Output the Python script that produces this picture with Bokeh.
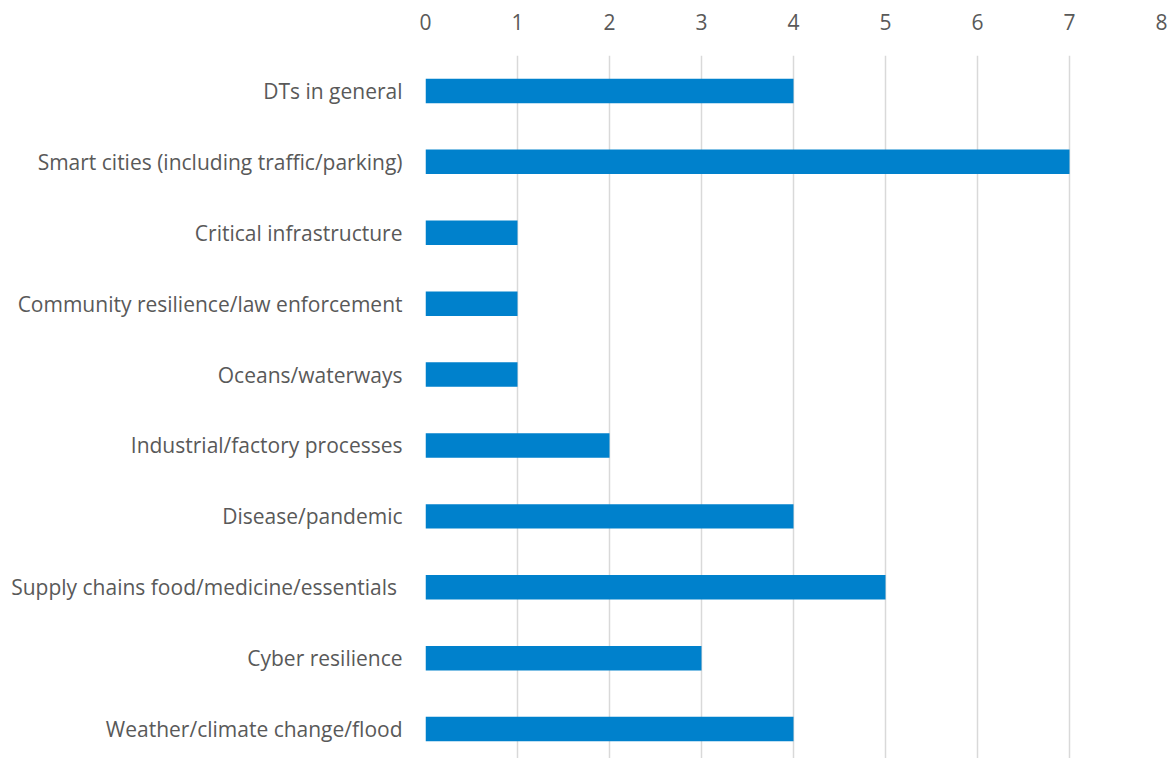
from bokeh.plotting import figure
from bokeh.models import Range1d, FixedTicker, ColumnDataSource
from bokeh.embed import file_html
from bokeh.resources import INLINE

categories = [
    "DTs in general",
    "Smart cities (including traffic/parking)",
    "Critical infrastructure",
    "Community resilience/law enforcement",
    "Oceans/waterways",
    "Industrial/factory processes",
    "Disease/pandemic",
    "Supply chains food/medicine/essentials ",
    "Cyber resilience",
    "Weather/climate change/flood",
]
values = [4, 7, 1, 1, 1, 2, 4, 5, 3, 4]
x_ticks = [0, 1, 2, 3, 4, 5, 6, 7, 8]

pos = list(range(len(categories)))
src = ColumnDataSource(dict(y=pos, right=values, left=[0] * len(values)))

p = figure(width=1172, height=758, output_backend="svg", toolbar_location=None,
           x_range=Range1d(0, 8), y_range=Range1d(9.415, -0.5),
           x_axis_location="above",
           min_border_left=425, min_border_right=11, min_border_top=55, min_border_bottom=0)
p.outline_line_color = None
p.background_fill_color = "white"
p.border_fill_color = "white"

p.hbar(y="y", left="left", right="right", height=0.345, source=src,
       fill_color="#0081CC", line_color=None)

xax = p.above[0]
xax.ticker = FixedTicker(ticks=x_ticks)
xax.axis_line_color = None
xax.major_tick_line_color = None
xax.minor_tick_line_color = None
xax.major_label_text_font = "Open Sans"
xax.major_label_text_font_size = "21px"
xax.major_label_text_color = "#595959"
xax.major_label_standoff = 20

p.yaxis.ticker = FixedTicker(ticks=pos)
p.yaxis.major_label_overrides = {i: c for i, c in enumerate(categories)}
p.yaxis.axis_line_color = None
p.yaxis.major_tick_line_color = None
p.yaxis.minor_tick_line_color = None
p.yaxis.major_label_text_font = "Open Sans"
p.yaxis.major_label_text_font_size = "21px"
p.yaxis.major_label_text_color = "#595959"
p.yaxis.major_label_standoff = 17

p.xgrid.ticker = FixedTicker(ticks=x_ticks)
p.xgrid.grid_line_color = "#D9D9D9"
p.xgrid.grid_line_width = 1.5
p.ygrid.grid_line_color = None

open("out.html", "w").write(file_html(p, INLINE))
